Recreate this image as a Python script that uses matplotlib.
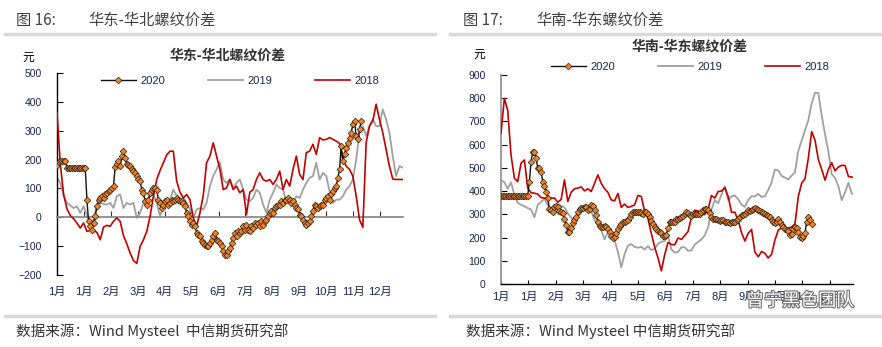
import numpy as np
import matplotlib
matplotlib.use('Agg')
import matplotlib.pyplot as plt
from matplotlib.lines import Line2D
import matplotlib.patheffects as pe

plt.rcParams['font.family'] = ['Liberation Sans', 'Noto Sans CJK SC', 'DejaVu Sans']

W, H = 882, 347

# --- data ---
month_labels = ['1月', '1月', '2月', '3月', '4月', '5月', '6月',
                '7月', '8月', '9月', '10月', '11月', '12月']
years = ['2020', '2019', '2018']

# 华东-华北螺纹价差 (元), x in months from start of year
ec_nc_step = 10 / 81      # spacing of 2019/2018 points
ec_nc_step_2020 = 5 / 81  # spacing of 2020 points
ec_nc_2018 = [363, 183, 79, 29, 6, -5, -20, -37, -20, -49,
              -45, -46, -52, -78, -34, -28, -31, -14, -2, -14,
              -64, -92, -124, -150, -160, -101, -78, -49, 3, 73,
              131, 162, 189, 216, 229, 229, 125, 87, 67, 79,
              61, -2, -31, 15, 76, 189, 212, 258, 212, 166,
              96, 102, 131, 96, 108, 85, 96, 9, 87, 96,
              131, 154, 131, 125, 131, 114, 131, 160, 96, 131,
              108, 166, 212, 148, 131, 224, 229, 253, 218, 276,
              268, 270, 276, 270, 264, 256, 201, 177, 166, 143,
              73, -8, -35, 258, 316, 334, 392, 340, 293, 235,
              177, 133, 131, 131, 131]
ec_nc_2019 = [137, 119, 73, 50, 41, 32, 38, 15, 38, 9,
              -20, -8, 44, 50, 46, 44, 50, 32, 73, 79,
              32, 50, 44, 50, -2, 15, 50, 61, 73, 79,
              50, 3, 44, 38, 61, 96, 73, 50, 67, 50,
              27, -2, 27, 32, 27, 50, 108, 143, 166, 191,
              131, 119, 131, 102, 119, 131, 96, 61, 56, 67,
              96, 85, 44, 15, 61, 85, 114, 102, 96, 50,
              56, 44, 73, 67, 96, 119, 137, 143, 189, 131,
              154, 143, 90, 50, 61, 61, 73, 96, 108, 131,
              200, 293, 316, 282, 316, 340, 316, 316, 374, 340,
              293, 212, 143, 177, 172]
ec_nc_2020 = [180, 191, 195, 195, 195, 195, 172, 172, 172, 172,
              172, 172, 172, 172, 172, 172, 172, 172, 61, -14,
              -31, -43, -20, 3, 38, 61, 67, 73, 67, 79,
              85, 90, 96, 102, 108, 175, 183, 195, 177, 212,
              229, 206, 183, 180, 177, 166, 160, 154, 143, 131,
              125, 96, 85, 56, 44, 61, 85, 96, 102, 102,
              96, 61, 50, 32, 44, 56, 61, 44, 50, 61,
              56, 61, 67, 61, 56, 56, 50, 38, 15, 3,
              -14, -25, -20, -31, -54, -60, -66, -83, -89, -95,
              -101, -101, -89, -78, -66, -54, -78, -83, -89, -101,
              -118, -130, -130, -118, -107, -89, -72, -54, -66, -49,
              -54, -49, -31, -43, -25, -43, -49, -31, -37, -20,
              -25, -20, -31, -14, -25, -14, -8, 3, 15, 21,
              15, 32, 38, 44, 44, 56, 50, 61, 61, 67,
              61, 50, 56, 44, 32, 27, 9, 3, -8, -20,
              -25, -20, -14, 3, 21, 44, 38, 32, 38, 44,
              44, 61, 67, 73, 61, 79, 90, 102, 108, 137,
              166, 247, 195, 218, 241, 258, 276, 293, 322, 334,
              282, 270, 305, 334]

# 华南-华东螺纹价差 (元)
sc_ec_step = 10 / 82
sc_ec_step_2020 = 5 / 82
sc_ec_2018 = [649, 799, 749, 556, 456, 441, 520, 534, 413, 393,
              391, 387, 372, 370, 370, 370, 370, 352, 364, 448,
              355, 395, 410, 413, 418, 401, 410, 398, 433, 470,
              434, 410, 395, 362, 358, 390, 330, 344, 330, 334,
              341, 381, 377, 312, 281, 218, 159, 112, 57, 126,
              179, 170, 169, 198, 192, 209, 226, 288, 318, 314,
              307, 299, 321, 381, 370, 398, 400, 415, 377, 309,
              309, 275, 221, 185, 218, 235, 138, 117, 140, 132,
              112, 128, 189, 232, 241, 241, 241, 246, 259, 377,
              434, 453, 542, 656, 619, 536, 493, 447, 493, 522,
              487, 504, 511, 510, 463, 460, 460]
sc_ec_2019 = [448, 438, 410, 438, 384, 350, 341, 335, 327, 321,
              287, 341, 354, 367, 341, 315, 324, 344, 337, 330,
              304, 287, 272, 292, 309, 331, 330, 315, 275, 251,
              232, 192, 224, 218, 189, 138, 72, 129, 165, 172,
              160, 156, 160, 149, 163, 146, 152, 173, 182, 185,
              209, 149, 135, 138, 158, 158, 143, 145, 170, 181,
              192, 210, 244, 321, 361, 347, 385, 421, 361, 377,
              381, 365, 342, 332, 361, 378, 377, 388, 375, 378,
              405, 438, 493, 489, 466, 458, 450, 467, 481, 573,
              618, 662, 705, 778, 824, 822, 725, 645, 570, 473,
              457, 421, 361, 395, 436, 390, 384]
sc_ec_2020 = [381, 381, 381, 381, 381, 381, 381, 381, 381, 381,
              381, 381, 381, 381, 381, 381, 381, 441, 527, 567,
              570, 542, 500, 499, 484, 441, 424, 398, 370, 322,
              317, 309, 332, 335, 330, 315, 312, 304, 281, 252,
              226, 226, 242, 261, 274, 289, 311, 324, 327, 327,
              331, 330, 318, 324, 342, 338, 318, 295, 266, 251,
              244, 245, 248, 244, 236, 225, 206, 198, 203, 221,
              235, 249, 258, 266, 269, 272, 275, 289, 301, 309,
              308, 309, 308, 309, 304, 301, 309, 308, 301, 289,
              271, 258, 246, 236, 229, 226, 218, 208, 205, 213,
              241, 266, 269, 265, 266, 278, 279, 285, 289, 292,
              301, 309, 307, 295, 292, 301, 301, 301, 301, 302,
              309, 317, 324, 322, 317, 304, 289, 279, 279, 279,
              277, 272, 274, 274, 266, 266, 265, 262, 266, 265,
              266, 274, 279, 288, 295, 298, 301, 309, 317, 315,
              317, 324, 327, 322, 320, 315, 312, 304, 302, 295,
              291, 287, 275, 265, 262, 266, 278, 269, 254, 244,
              236, 234, 229, 209, 215, 235, 245, 242, 222, 203,
              198, 205, 218, 269, 287, 274, 258]

# --- styles ---
RED = '#c00000'
GRAY = '#a0a0a0'
ORANGE = '#f5821f'
TICK_COLOR = '#1c2450'
CJK = ['Noto Sans CJK SC', 'DejaVu Sans']


def fx(x):
    return x / W


def fy(y):
    return 1 - y / H


def draw_series(ax, s2020, s2019, s2018, step, step20):
    x19 = np.arange(len(s2019)) * step
    x18 = np.arange(len(s2018)) * step
    x20 = np.arange(len(s2020)) * step20
    l19, = ax.plot(x19, s2019, color=GRAY, lw=1.3, zorder=2)
    l18, = ax.plot(x18, s2018, color=RED, lw=1.2, zorder=3)
    l20, = ax.plot(x20, s2020, color='#111111', lw=1.0, marker='D', ms=3.4,
                   mfc=ORANGE, mec='#222222', mew=0.5, zorder=4)
    return [l20, l19, l18]


def style_axes(ax, ylim, yticks):
    ax.set_xlim(0, 12.85)
    ax.set_ylim(*ylim)
    ax.set_yticks(yticks)
    ax.set_xticks(range(len(month_labels)))
    ax.set_xticklabels(month_labels)
    ax.spines['top'].set_visible(False)
    ax.spines['right'].set_visible(False)
    ax.tick_params(axis='y', direction='in', length=4, width=0.8, pad=11,
                   labelsize=7.5, labelcolor=TICK_COLOR)
    ax.set_facecolor('none')


fig = plt.figure(figsize=(W / 100, H / 100), dpi=100)

# --- left panel ---
axL = fig.add_axes([fx(57), fy(275), fx(346), 202 / H])
hL = draw_series(axL, ec_nc_2020, ec_nc_2019, ec_nc_2018, ec_nc_step, ec_nc_step_2020)
style_axes(axL, (-200, 500), range(-200, 501, 100))
axL.spines['bottom'].set_position(('data', 0))
axL.spines['bottom'].set_color('#8c8c8c')
axL.spines['bottom'].set_linewidth(1.3)
axL.spines['left'].set_color('black')
axL.spines['left'].set_linewidth(1.0)
axL.tick_params(axis='x', direction='in', length=4, width=0.8, color='#333333',
                pad=50, labelsize=8, labelcolor=TICK_COLOR)
axL.legend(hL, years, loc='center', bbox_to_anchor=(fx(240), fy(81)),
           bbox_transform=fig.transFigure, ncol=3, frameon=False, fontsize=8,
           handlelength=3.1, handletextpad=0.4, columnspacing=3.9,
           borderpad=0, labelcolor=TICK_COLOR)

# --- right panel ---
axR = fig.add_axes([fx(501), fy(284), fx(352), 209 / H])
hR = draw_series(axR, sc_ec_2020, sc_ec_2019, sc_ec_2018, sc_ec_step, sc_ec_step_2020)
style_axes(axR, (0, 900), range(0, 901, 100))
axR.spines['left'].set_color('#969696')
axR.spines['left'].set_linewidth(1.3)
axR.spines['bottom'].set_color('black')
axR.spines['bottom'].set_linewidth(1.0)
axR.tick_params(axis='x', direction='in', length=3, width=0.8,
                pad=6, labelsize=8, labelcolor=TICK_COLOR)
axR.legend(hR, years, loc='center', bbox_to_anchor=(fx(690), fy(67)),
           bbox_transform=fig.transFigure, ncol=3, frameon=False, fontsize=8,
           handlelength=3.1, handletextpad=0.4, columnspacing=3.9,
           borderpad=0, labelcolor=TICK_COLOR)

# --- titles, units ---
fig.text(fx(228), fy(56), '华东-华北螺纹价差', ha='center', va='center',
         fontsize=10, fontweight='bold', color='#333333', family=CJK)
fig.text(fx(690), fy(47), '华南-华东螺纹价差', ha='center', va='center',
         fontsize=10, fontweight='bold', color='#333333', family=CJK)
fig.text(fx(28), fy(57), '元', ha='center', va='center', fontsize=8.5,
         color='black', family=CJK)
fig.text(fx(479), fy(54), '元', ha='center', va='center', fontsize=8.5,
         color='black', family=CJK)

# --- headers and footers ---
for x0, num, name, x1 in [(16, '图 16:', '华东-华北螺纹价差', 88),
                          (463, '图 17:', '华南-华东螺纹价差', 536)]:
    fig.text(fx(x0), fy(20), num, ha='left', va='center', fontsize=11,
             color='#404040', family=CJK)
    fig.text(fx(x1), fy(20), name, ha='left', va='center', fontsize=11,
             color='#404040', family=CJK)

for xa, xb in [(5, 435), (450, 880)]:
    fig.add_artist(Line2D([fx(xa), fx(xb)], [fy(34), fy(34)], color='#d9d9d9', lw=2.5))
    fig.add_artist(Line2D([fx(xa), fx(xb)], [fy(316), fy(316)], color='#d9d9d9', lw=2.5))

fig.text(fx(16), fy(331), '数据来源：Wind Mysteel  中信期货研究部', ha='left', va='center',
         fontsize=10.5, color='#333333', family=CJK)
fig.text(fx(466), fy(331), '数据来源：Wind Mysteel 中信期货研究部', ha='left', va='center',
         fontsize=10.5, color='#333333', family=CJK)

# watermark
fig.text(fx(800), fy(301), '曾宁黑色团队', ha='center', va='center', fontsize=13,
         color='white', family=CJK, zorder=10,
         path_effects=[pe.withStroke(linewidth=1.6, foreground='#6f6f6f')])

fig.savefig('out.png', dpi=100)
